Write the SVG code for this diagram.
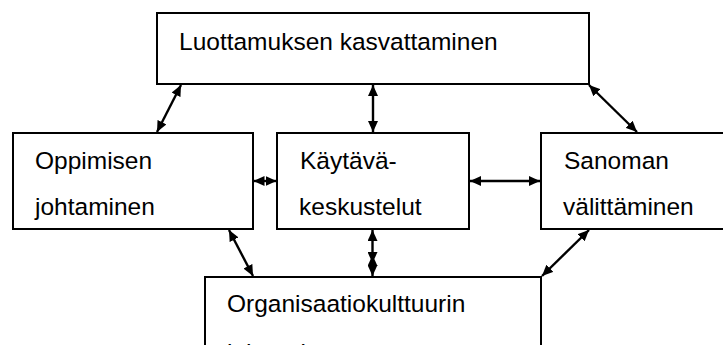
<svg xmlns="http://www.w3.org/2000/svg" width="723" height="345" viewBox="0 0 723 345">
<style>
.box{fill:#fff;stroke:#000;stroke-width:2}
.lbl{font-family:"Liberation Sans",Arial,sans-serif;font-size:24.5px;fill:#000}
.con{stroke:#000;stroke-width:2.4;fill:none;marker-start:url(#ah);marker-end:url(#ah)}
</style>
<defs>
<marker id="ah" markerUnits="userSpaceOnUse" markerWidth="12" markerHeight="10" refX="11" refY="5" orient="auto-start-reverse" viewBox="0 0 12 10">
<path d="M0,0 L11,5 L0,10 z" fill="#000"/>
</marker>
</defs>
<rect width="723" height="345" fill="#fff"/>
<g id="n-luottamus">
<rect class="box" x="157" y="13" width="432" height="71"/>
<text class="lbl" x="179" y="50">Luottamuksen kasvattaminen</text>
</g>
<g id="n-oppiminen">
<rect class="box" x="13" y="133" width="240" height="96"/>
<text class="lbl" x="35" y="169">Oppimisen</text>
<text class="lbl" x="35" y="215">johtaminen</text>
</g>
<g id="n-kaytava">
<rect class="box" x="277" y="133" width="192" height="96"/>
<text class="lbl" x="300" y="169">Käytävä-</text>
<text class="lbl" x="299" y="215">keskustelut</text>
</g>
<g id="n-sanoman">
<rect class="box" x="541" y="133" width="200" height="96"/>
<text class="lbl" x="564" y="169">Sanoman</text>
<text class="lbl" x="563" y="215">välittäminen</text>
</g>
<g id="n-organisaatio">
<rect class="box" x="205" y="277" width="336" height="90"/>
<text class="lbl" x="227" y="312">Organisaatiokulttuurin</text>
<text class="lbl" x="227" y="361">johtaminen</text>
</g>
<g id="connectors">
<line class="con" x1="181" y1="85" x2="157" y2="132"/>
<line class="con" x1="373" y1="85" x2="373" y2="132"/>
<line class="con" x1="589" y1="85" x2="637" y2="132"/>
<line class="con" x1="253.5" y1="181" x2="276.5" y2="181"/>
<line class="con" x1="470" y1="181" x2="540" y2="181"/>
<line class="con" x1="229" y1="230" x2="253" y2="276"/>
<line class="con" x1="372.5" y1="230" x2="372.5" y2="263"/>
<line class="con" x1="372.5" y1="255" x2="372.5" y2="276"/>
<line class="con" x1="589" y1="230" x2="542" y2="276"/>
</g>
</svg>
